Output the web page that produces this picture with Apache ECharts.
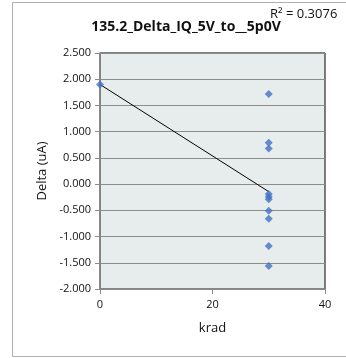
<!DOCTYPE html>
<html><head><meta charset="utf-8">
<script src="https://cdn.jsdelivr.net/npm/echarts@6/dist/echarts.min.js"></script>
<style>html,body{margin:0;padding:0;background:#fff}#c{width:346px;height:358px}</style>
</head><body><div id="c"></div>
<script>
const titleText = "135.2_Delta_IQ_5V_to__5p0V";
const xName = "krad";
const yName = "Delta (uA)";
const r2Text = "R\u00B2 = 0.3076";
const xVals = [0, 30, 30, 30, 30, 30, 30, 30, 30, 30, 30];
const yVals = [1.90, 1.72, 0.79, 0.68, -0.19, -0.24, -0.29, -0.51, -0.66, -1.18, -1.56];

// least-squares trendline from the data
const n = xVals.length;
const mx = xVals.reduce((a,b)=>a+b,0)/n;
const my = yVals.reduce((a,b)=>a+b,0)/n;
let sxy=0, sxx=0;
for (let i=0;i<n;i++){ sxy+=(xVals[i]-mx)*(yVals[i]-my); sxx+=(xVals[i]-mx)**2; }
const slope = sxy/sxx, icpt = my - slope*mx;
const xMin = Math.min(...xVals), xMax = Math.max(...xVals);
const trend = [[xMin, icpt+slope*xMin],[xMax, icpt+slope*xMax]];

const chart = echarts.init(document.getElementById('c'));
const font = "'Open Sans', 'Liberation Sans', sans-serif";
chart.setOption({
  animation:false,
  textStyle:{fontFamily:font},
  graphic:[
    {type:'rect', shape:{x:12.5,y:2.5,width:345,height:354}, style:{fill:'none',stroke:'#b0b0b0',lineWidth:1}, z:-1},
    {type:'text', left:270, top:8, style:{text:r2Text, font:"13px "+font, fill:'#111'}}
  ],
  title:{text:titleText, left:181, top:15, textAlign:'center',
    textStyle:{fontSize:14, fontWeight:'bold', color:'#111', fontFamily:font}},
  grid:{left:100, right:21, top:53, bottom:69, show:true, backgroundColor:'#E7ECEC', borderColor:'#000', borderWidth:1},
  xAxis:{type:'value', min:0, max:40, interval:20,
    name:xName, nameLocation:'middle', nameGap:33,
    nameTextStyle:{fontSize:13, color:'#111'},
    axisLine:{show:true, onZero:false, lineStyle:{color:'#8a8a8a', width:1.5}},
    axisTick:{show:true, length:5, lineStyle:{color:'#8a8a8a'}},
    axisLabel:{fontSize:11, color:'#111', margin:10},
    splitLine:{show:false}},
  yAxis:{type:'value', min:-2, max:2.5, interval:0.5,
    name:yName, nameLocation:'middle', nameGap:49,
    nameTextStyle:{fontSize:13, color:'#111'},
    axisLine:{show:true, onZero:false, lineStyle:{color:'#8a8a8a', width:1.5}},
    axisTick:{show:true, length:5, lineStyle:{color:'#8a8a8a'}},
    axisLabel:{fontSize:11, color:'#111', margin:9, formatter:v=>v.toFixed(3)},
    splitLine:{show:true, lineStyle:{color:'#8c8c8c', width:1}}},
  series:[
    {type:'scatter', data:xVals.map((x,i)=>[x,yVals[i]]), symbol:'diamond', symbolSize:8,
     itemStyle:{color:'#4472C4'}, z:3},
    {type:'line', data:trend, showSymbol:false, symbol:'none', lineStyle:{color:'#000', width:1}, z:2}
  ]
});
</script></body></html>
